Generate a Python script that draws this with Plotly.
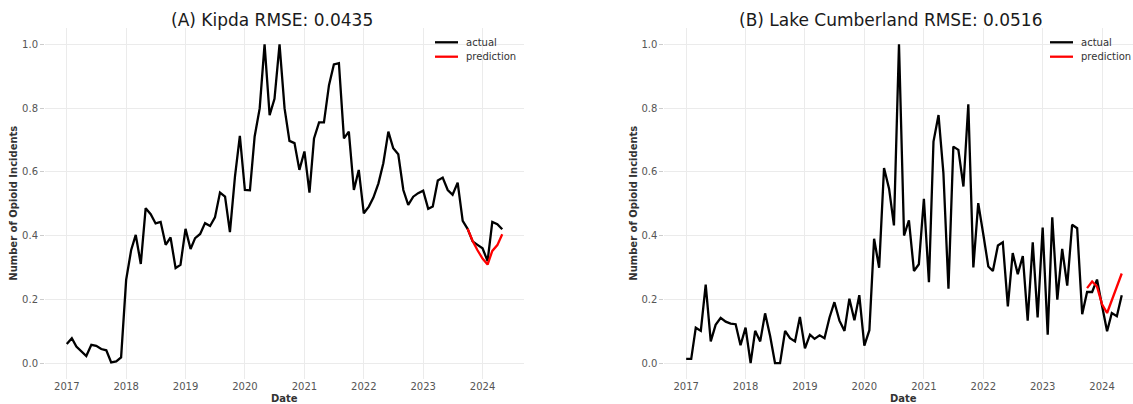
import pandas as pd
import plotly.graph_objects as go

W, H = 1133, 404

# Monthly series, Jan 2017 - May 2024 (normalised incident counts)
dates = pd.date_range("2017-01-01", "2024-05-01", freq="MS")
pred_dates = dates[-8:]  # Oct 2023 - May 2024

kipda_actual = [
    0.060, 0.078, 0.052, 0.037, 0.022, 0.057, 0.054, 0.044, 0.040, 0.002, 0.005, 0.018,
    0.261, 0.355, 0.402, 0.311, 0.486, 0.467, 0.438, 0.443, 0.371, 0.394, 0.298, 0.308,
    0.421, 0.358, 0.392, 0.405, 0.439, 0.430, 0.457, 0.535, 0.522, 0.411, 0.585, 0.713,
    0.543, 0.542, 0.711, 0.799, 1.000, 0.778, 0.829, 1.000, 0.799, 0.697, 0.690, 0.606,
    0.664, 0.535, 0.705, 0.755, 0.755, 0.872, 0.937, 0.941, 0.705, 0.726, 0.543, 0.606,
    0.470, 0.491, 0.519, 0.564, 0.627, 0.726, 0.674, 0.655, 0.543, 0.496, 0.522, 0.533,
    0.541, 0.484, 0.491, 0.573, 0.582, 0.543, 0.528, 0.566, 0.446, 0.421, 0.382, 0.371,
    0.360, 0.320, 0.443, 0.436, 0.420,
]
kipda_pred = [0.422, 0.383, 0.354, 0.328, 0.309, 0.352, 0.370, 0.404]

lake_actual = [
    0.013, 0.013, 0.111, 0.101, 0.246, 0.068, 0.120, 0.142, 0.130, 0.124, 0.122, 0.056,
    0.111, 0.000, 0.101, 0.068, 0.156, 0.085, 0.000, 0.000, 0.101, 0.078, 0.068, 0.145,
    0.046, 0.089, 0.076, 0.087, 0.078, 0.143, 0.191, 0.133, 0.101, 0.202, 0.134, 0.213,
    0.055, 0.103, 0.390, 0.299, 0.612, 0.547, 0.432, 1.000, 0.400, 0.448, 0.289, 0.310,
    0.515, 0.254, 0.695, 0.778, 0.596, 0.233, 0.679, 0.669, 0.554, 0.812, 0.300, 0.502,
    0.404, 0.303, 0.289, 0.369, 0.379, 0.178, 0.345, 0.279, 0.336, 0.133, 0.379, 0.143,
    0.425, 0.089, 0.457, 0.199, 0.358, 0.243, 0.434, 0.423, 0.153, 0.223, 0.223, 0.262,
    0.180, 0.100, 0.157, 0.147, 0.213,
]
lake_pred = [0.235, 0.256, 0.240, 0.184, 0.157, 0.195, 0.240, 0.281]

titles = ["(A) Kipda RMSE: 0.0435", "(B) Lake Cumberland RMSE: 0.0516"]
legend_labels = ["actual", "prediction"]
y_ticks = [0.0, 0.2, 0.4, 0.6, 0.8, 1.0]

ACTUAL_COLOR = "#000000"
PRED_COLOR = "#ff0000"
GRID = "#ebebeb"
FONT = "DejaVu Sans"


def px(x):
    return x / W


def py(y):
    return 1 - y / H


# x range: data span plus 5% padding on each side
span = dates[-1] - dates[0]
x_start = dates[0] - span * 0.05
x_end_full = dates[-1] + span * 0.05
plot_w = 479.0
px_per_day = plot_w / ((x_end_full - x_start).days)

left_l = 45.0
right_l = 664.4
right_visible = W - right_l
x_end_right = x_start + pd.Timedelta(days=right_visible / px_per_day)

plot_top, plot_bottom = 28.4, 379.0

fig = go.Figure()
series = [(kipda_actual, kipda_pred, "x", "y"), (lake_actual, lake_pred, "x2", "y2")]
for act, pred, xa, ya in series:
    fig.add_trace(go.Scatter(x=dates, y=act, mode="lines", xaxis=xa, yaxis=ya,
                             line=dict(color=ACTUAL_COLOR, width=2.3), showlegend=False))
    fig.add_trace(go.Scatter(x=pred_dates, y=pred, mode="lines", xaxis=xa, yaxis=ya,
                             line=dict(color=PRED_COLOR, width=2.3), showlegend=False))

xcommon = dict(type="date", tick0="2017-01-01", dtick="M12", tickformat="%Y",
               showgrid=True, gridcolor=GRID, gridwidth=1, zeroline=False, showline=False,
               ticks="", tickfont=dict(family=FONT, size=10, color="#555555"))
ycommon = dict(range=[-0.05, 1.05], tickvals=y_ticks, tickformat=".1f",
               showgrid=True, gridcolor=GRID, gridwidth=1, zeroline=False, showline=False,
               ticks="outside", ticklen=4, tickcolor="#cccccc",
               tickfont=dict(family=FONT, size=10, color="#555555"),
               domain=[py(plot_bottom), py(plot_top)])

fig.update_layout(
    width=W, height=H,
    margin=dict(l=0, r=0, t=0, b=0),
    paper_bgcolor="white", plot_bgcolor="white",
    xaxis=dict(xcommon, domain=[px(left_l), px(left_l + plot_w)],
               range=[x_start, x_end_full], anchor="y"),
    yaxis=dict(ycommon, anchor="x"),
    xaxis2=dict(xcommon, domain=[px(right_l), 1.0],
                range=[x_start, x_end_right], anchor="y2"),
    yaxis2=dict(ycommon, anchor="x2"),
)

annotations = []
shapes = []
title_centers = [271.5, 890.6]
date_centers = [left_l + plot_w / 2, right_l + plot_w / 2]
ytitle_x = [14.0, 634.0]
legend_x = [435.0, 1050.0]
for i in range(2):
    annotations.append(dict(text=titles[i], x=px(title_centers[i]), y=py(20),
                            xref="paper", yref="paper", showarrow=False,
                            xanchor="center", yanchor="middle",
                            font=dict(family=FONT, size=17, color="#1a1a1a")))
    annotations.append(dict(text="Date", x=px(date_centers[i]), y=py(398),
                            xref="paper", yref="paper", showarrow=False,
                            xanchor="center", yanchor="middle",
                            font=dict(family=FONT, size=10, color="#333333", weight="bold")))
    annotations.append(dict(text="Number of Opioid Incidents", x=px(ytitle_x[i]),
                            y=py((plot_top + plot_bottom) / 2), textangle=-90,
                            xref="paper", yref="paper", showarrow=False,
                            xanchor="center", yanchor="middle",
                            font=dict(family=FONT, size=10, color="#333333", weight="bold")))
    for j, (lab, col) in enumerate(zip(legend_labels, [ACTUAL_COLOR, PRED_COLOR])):
        ly = 42.3 + j * 14.4
        shapes.append(dict(type="line", xref="paper", yref="paper",
                           x0=px(legend_x[i]), x1=px(legend_x[i] + 23),
                           y0=py(ly), y1=py(ly), line=dict(color=col, width=2.3)))
        annotations.append(dict(text=lab, x=px(legend_x[i] + 29), y=py(ly),
                                xref="paper", yref="paper", showarrow=False,
                                xanchor="left", yanchor="middle",
                                font=dict(family=FONT, size=10, color="#333333")))

fig.update_layout(annotations=annotations, shapes=shapes)
fig.write_html("out.html", config={"displayModeBar": False})
